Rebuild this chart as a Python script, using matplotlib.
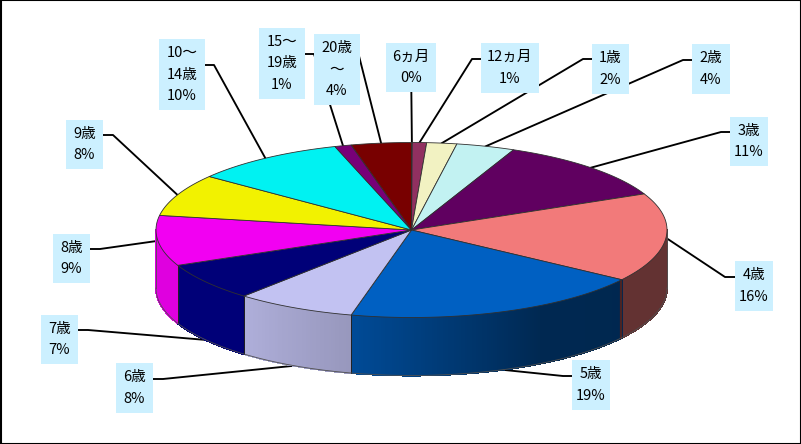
import numpy as np
import matplotlib
matplotlib.use("Agg")
import matplotlib.pyplot as plt
from matplotlib.patches import Rectangle, Polygon

plt.rcParams['font.family'] = ['Noto Sans CJK JP', 'DejaVu Sans']

# Data
categories = ["6ヵ月", "12ヵ月", "1歳", "2歳", "3歳", "4歳", "5歳", "6歳", "7歳", "8歳", "9歳", "10～14歳", "15～19歳", "20歳～"]
shares = [0.05, 0.9, 1.9, 3.7, 11.7, 16.4, 19.2, 7.6, 7.0, 9.3, 7.8, 9.7, 1.05, 3.8]
percent_labels = ["0%", "1%", "2%", "4%", "11%", "16%", "19%", "8%", "7%", "9%", "8%", "10%", "1%", "4%"]
label_lines = [["6ヵ月"], ["12ヵ月"], ["1歳"], ["2歳"], ["3歳"], ["4歳"], ["5歳"], ["6歳"], ["7歳"], ["8歳"], ["9歳"],
               ["10～", "14歳"], ["15～", "19歳"], ["20歳", "～"]]
colors = ["#9191F2", "#913060", "#F2F2C2", "#C2F2F2", "#600060", "#F27A7A", "#0060C2", "#C2C2F2", "#000078", "#F200F2",
          "#F2F200", "#00F2F2", "#780078", "#780000"]

# Layout (pixels)
W, H = 801, 444
cx, cy, rx, ry, depth = 411.5, 230, 255.5, 87.5, 58
boxes = [(386, 43, 50, 49), (481, 43, 58, 50), (592, 44, 37, 50), (692, 44, 38, 50), (730, 117, 38, 49),
         (735, 261, 38, 50), (572, 360, 38, 50), (116, 363, 37, 50), (41, 315, 37, 49), (53, 234, 37, 49),
         (66, 120, 37, 49), (159, 39, 46, 71), (259, 28, 46, 71), (314, 34, 46, 71)]
elbows = [[(411, 60)], [(481, 59), (472, 59)], [(592, 59), (583, 59)], [(692, 60), (683, 60)], [(730, 132), (721, 132)],
          [(735, 277), (725, 277)], [(572, 376), (563, 376)], [(153, 379), (163, 379)], [(78, 330), (88, 330)],
          [(90, 249), (100, 249)], [(103, 135), (113, 135)], [(205, 65), (214, 65)], [(305, 54), (314, 54)],
          [(358, 52)]]


def shade(angle):
    if angle > 246.3:
        return 0.92
    return np.interp(angle, [90, 125, 150, 194, 221, 222, 250], [.41, .41, .42, .78, .90, 1.0, 1.0])


def pt(angle):
    a = np.radians(angle)
    return cx + rx * np.sin(a), cy - ry * np.cos(a)


fig = plt.figure(figsize=(W / 100, H / 100), dpi=100, facecolor='white')
ax = fig.add_axes([0, 0, 1, 1])
ax.set_xlim(0, W)
ax.set_ylim(H, 0)
ax.axis('off')

ax.add_patch(Rectangle((0.5, 0.5), W - 1, H - 1, fc='white', ec='black', lw=1.5, zorder=0))

vals = np.array(shares)
edges = np.concatenate([[0], np.cumsum(vals)]) / vals.sum() * 360
base = [np.array(matplotlib.colors.to_rgb(c)) for c in colors]

# Side wall: solid shaded strips, not anti-aliased so no seams appear
for i in range(len(vals)):
    a0, a1 = max(edges[i], 90), min(edges[i + 1], 270)
    if a1 <= a0:
        continue
    steps = np.arange(a0, a1 + 0.5, 0.5)
    steps = np.append(steps[steps < a1], a1)
    for s0, s1 in zip(steps[:-1], steps[1:]):
        x0, y0 = pt(s0)
        x1, y1 = pt(s1)
        c = np.clip(base[i] * shade((s0 + s1) / 2), 0, 1)
        ax.add_patch(Polygon([(x0, y0), (x1, y1), (x1, y1 + depth), (x0, y0 + depth)], fc=c, ec=c, lw=0.8,
                             antialiased=False, zorder=2))
    if a0 > 90:
        xb, yb = pt(a0)
        is_front_right = i == 6
        ax.plot([xb - (1 if is_front_right else 0)] * 2, [yb, yb + depth], color='#4A2424' if is_front_right else '#202020',
                lw=1.6 if is_front_right else 0.7, zorder=2.2)

# Side outline
aa = np.linspace(90, 270, 300)
xs, ys = pt(aa)
ax.plot(xs, ys + depth, color='#505050', lw=0.6, zorder=2.2)
ax.plot([xs[0], xs[0]], [ys[0], ys[0] + depth], color='#505050', lw=0.6, zorder=2.2)
ax.plot([xs[-1], xs[-1]], [ys[-1], ys[-1] + depth], color='#505050', lw=0.6, zorder=2.2)

# Top surface
for i in range(len(vals)):
    aa = np.linspace(edges[i], edges[i + 1], max(3, int(edges[i + 1] - edges[i]) * 2))
    xs, ys = pt(aa)
    ax.add_patch(Polygon(np.column_stack([np.r_[cx, xs], np.r_[cy, ys]]), fc=colors[i], ec='#303030', lw=0.6,
                         joinstyle='round', zorder=3))

# Leaders and labels
for i, name in enumerate(categories):
    mid = (edges[i] + edges[i + 1]) / 2
    x, y = pt(mid)
    if 110 < mid < 250:
        y += depth
    pts = elbows[i] + [(x, y)]
    ax.plot([p[0] for p in pts], [p[1] for p in pts], color='black', lw=1.35, zorder=1, solid_joinstyle='round')
    bx, by, bw, bh = boxes[i]
    ax.add_patch(Rectangle((bx, by), bw, bh, fc='#CCF0FF', ec='none', zorder=4))
    lines = label_lines[i] + [percent_labels[i]]
    n = len(lines)
    for j, t in enumerate(lines):
        ax.text(bx + bw / 2, by + bh / 2 + (j - (n - 1) / 2) * 21.5, t, ha='center', va='center',
                fontsize=10.5, color='black', zorder=5)

fig.savefig('out.png', dpi=100, facecolor='white')
